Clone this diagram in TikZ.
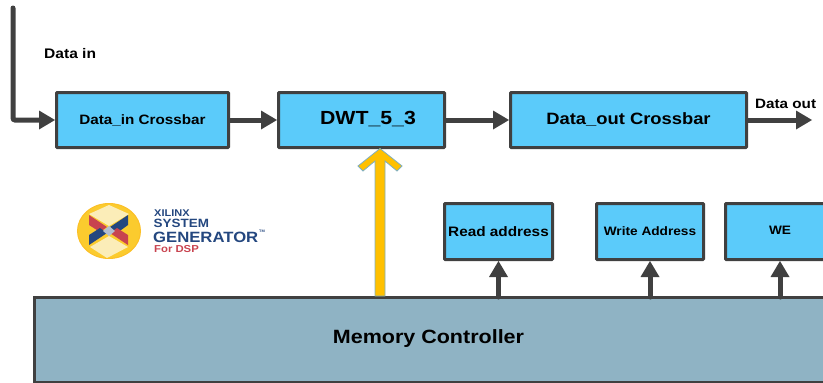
\documentclass[tikz,border=0pt]{standalone}
\usepackage{fontspec}
\setmainfont[FakeStretch=1.12]{Liberation Sans}
\usetikzlibrary{arrows.meta}
\definecolor{boxblue}{HTML}{5BCBFA}
\definecolor{edgegray}{HTML}{404040}
\definecolor{memfill}{HTML}{8FB3C4}
\definecolor{gold}{HTML}{FFC000}
\definecolor{goldedge}{HTML}{7FAFC0}
\definecolor{logonavy}{HTML}{24477F}
\definecolor{logored}{HTML}{C8434F}
\definecolor{logoyellow}{HTML}{FBCB2E}
\definecolor{logocream}{HTML}{FBEDB8}
\tikzset{
  blockbox/.style={draw=edgegray,fill=boxblue,line width=3pt,rounded corners=0.8pt,anchor=north west,inner sep=0pt,font=\bfseries},
  conn/.style={draw=edgegray,line width=5pt,line cap=round,-{Triangle[length=16pt,width=19pt,line width=0pt]}},
  lbl/.style={inner sep=0pt,text=black},
  logotext/.style={anchor=west,inner sep=0pt},
}
\begin{document}
\begin{tikzpicture}[x=1pt,y=-1pt]
\useasboundingbox (0,0) rectangle (823,383);
\clip (0,0) rectangle (823,383);
% blocks
\node[blockbox,minimum width=172pt,minimum height=55pt,font=\bfseries\fontsize{13.6}{15}\selectfont] (din) at (55,91) {Data\_in Crossbar};
\node[blockbox,minimum width=166pt,minimum height=55pt] (dwt) at (277,91) {};
\node[lbl,font=\bfseries\fontsize{19}{21}\selectfont] (dwtlbl) at (368,119) {DWT\_5\_3};
\node[blockbox,minimum width=236pt,minimum height=55pt,font=\bfseries\fontsize{16.4}{18}\selectfont] (dout) at (509,91) {Data\_out Crossbar};
\node[blockbox,minimum width=108pt,minimum height=56pt,font=\bfseries\fontsize{13.7}{15}\selectfont] (read) at (443,202) {Read address};
\node[blockbox,minimum width=107pt,minimum height=56pt,font=\bfseries\fontsize{12.2}{14}\selectfont] (write) at (595,202) {Write Address};
\node[blockbox,minimum width=110pt,minimum height=56pt] (we) at (724,202) {};
\node[lbl,font=\bfseries\fontsize{12.2}{15}\selectfont] (welbl) at (780,230.5) {WE};
\node[draw=edgegray,fill=memfill,line width=3pt,anchor=north west,minimum width=800pt,minimum height=85pt,inner sep=0pt] (mem) at (33,296) {};
\node[lbl,font=\bfseries\fontsize{19.2}{22}\selectfont] (memlbl) at (428.5,338.5) {Memory Controller};
% labels
\node[lbl,anchor=west,font=\bfseries\fontsize{13.9}{15}\selectfont] (datain) at (44,54) {Data in};
\node[lbl,anchor=west,font=\bfseries\fontsize{13.6}{15}\selectfont] (dataout) at (755,104) {Data out};
% connectors
\coordinate (start) at (13,8);
\coordinate (corner) at (13,120);
\coordinate (outend) at (812,120);
\draw[conn,rounded corners=2pt] (start) -- (corner) -- (din.west |- corner);
\draw[conn] (din.east |- corner) -- (dwt.west |- corner);
\draw[conn] (dwt.east |- corner) -- (dout.west |- corner);
\draw[conn] (dout.east |- corner) -- (outend);
\draw[conn] (read.south |- mem.north) ++(0,1) -- (read.south);
\draw[conn] (write.south |- mem.north) ++(0,1) -- (write.south);
\coordinate (wefoot) at (780,297);
\coordinate (wetip) at (780,261);
\draw[conn] (wefoot) -- (wetip);
% yellow arrow
\draw[draw=goldedge,fill=gold,line width=0.8pt,line join=miter]
  (375,296) -- (375,161) -- (363,171) -- (358,166) -- (380,148.5) -- (402,166) -- (397,171) -- (385,161) -- (385,296) -- cycle;
% logo
\fill[logoyellow,draw=logoyellow!85!orange,line width=1pt] (109,231) ellipse (31.5pt and 27.5pt);
\fill[logocream] (109,205) -- (129,214) -- (109,226) -- (89,214) -- cycle;
\fill[logocream] (107,258) -- (90,247) -- (109,236) -- (128,247) -- cycle;
\fill[logored] (89,215) -- (107,227) -- (100,232) -- (89,225) -- cycle;
\fill[logonavy] (128,215) -- (110,227) -- (117,233) -- (128,225) -- cycle;
\fill[logonavy] (89,235) -- (100,228) -- (107,233) -- (89,245) -- cycle;
\fill[logored] (128,235) -- (117,228) -- (110,233) -- (128,245) -- cycle;
\fill[white!65!logonavy] (109,226) -- (115,231) -- (109,236) -- (103,231) -- cycle;
\node[logotext,text=logonavy,font=\bfseries\fontsize{9.8}{10}\selectfont] (x) at (154,213) {XILINX};
\node[logotext,text=logonavy,font=\bfseries\fontsize{12}{12}\selectfont] (s) at (153.5,223.5) {SYSTEM};
\node[logotext,text=logonavy,font=\bfseries\fontsize{14.9}{15}\selectfont] (g) at (153,237) {GENERATOR};
\node[logotext,text=logonavy,font=\bfseries\fontsize{3.5}{4}\selectfont] (tm) at (259,231) {TM};
\node[logotext,text=logored,font=\bfseries\fontsize{10.1}{11}\selectfont] (d) at (154,249) {For DSP};
\end{tikzpicture}
\end{document}
